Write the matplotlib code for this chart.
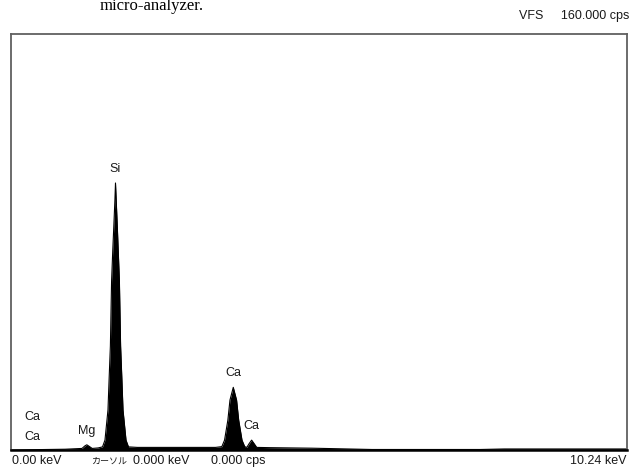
import matplotlib.pyplot as plt

# spectrum outline (energy in keV, counts in cps)
spectrum_kev = [0.00, 0.90, 1.18, 1.23, 1.26, 1.30, 1.35, 1.45,
                1.521, 1.562, 1.612, 1.632, 1.652, 1.672, 1.692, 1.709, 1.727,
                1.737,
                1.749, 1.767, 1.782, 1.802, 1.822, 1.842, 1.862, 1.912, 1.953,
                2.10, 2.60, 3.10, 3.40,
                3.505, 3.550, 3.605, 3.640, 3.695, 3.750, 3.785, 3.840, 3.885,
                3.92, 3.96, 4.00, 4.04, 4.085,
                4.30, 5.00, 5.60, 6.00, 7.80, 8.20, 10.24]
spectrum_cps = [0.0, 0.3, 0.6, 1.6, 2.0, 1.4, 0.6, 0.8,
                1.2, 3.8, 15.4, 28.0, 40.0, 65.0, 77.0, 86.0, 96.0,
                102.7,
                96.0, 86.0, 77.0, 65.0, 40.0, 28.0, 15.4, 3.8, 1.2,
                1.0, 1.0, 1.0, 1.0,
                1.3, 3.8, 11.5, 19.2, 24.1, 19.2, 11.5, 3.8, 1.3,
                1.0, 2.5, 3.8, 2.5, 1.0,
                0.9, 0.7, 0.4, 0.2, 0.2, 0.4, 0.4]

peak_names = ["Si", "Mg", "Ca", "Ca"]
peak_kev = [1.737, 1.26, 3.695, 4.00]
peak_cps = [102.7, 2.0, 24.1, 3.8]

full_scale = 160.0
max_kev = 10.24

plt.rcParams['font.family'] = ['Liberation Sans', 'Noto Sans CJK JP',
                               'DejaVu Sans']
txt = dict(fontsize=9, color='#1a1a1a')

fig = plt.figure(figsize=(6.31, 4.70), dpi=100)
ax = fig.add_axes([11 / 631, 20 / 470, 616 / 631, 416 / 470])

ax.fill_between(spectrum_kev, 0, spectrum_cps, color='black', lw=0)
ax.plot(spectrum_kev, spectrum_cps, color='black', lw=0.8)
ax.set_xlim(0, max_kev)
ax.set_ylim(0, full_scale)
ax.set_xticks([])
ax.set_yticks([])
for side in ['top', 'left', 'right']:
    ax.spines[side].set_color('#606060')
    ax.spines[side].set_linewidth(1.3)
ax.spines['bottom'].set_color('black')
ax.spines['bottom'].set_linewidth(1.8)

for name, e, c in zip(peak_names, peak_kev, peak_cps):
    ax.annotate(name, (e, c), xytext=(0, 10), textcoords='offset points',
                ha='center', va='center', **txt)

# element list at the left
ax.text(13 / 616, 33 / 416, "Ca", transform=ax.transAxes, va='center', **txt)
ax.text(13 / 616, 13 / 416, "Ca", transform=ax.transAxes, va='center', **txt)

# header and footer
fig.text(629 / 631, 1 - 16 / 470, "VFS     160.000 cps", ha='right',
         va='center', **txt)
by = 1 - 461 / 470
fig.text(12 / 631, by, "0.00 keV", va='center', **txt)
fig.text(91 / 631, by, "カーソル", va='center', fontsize=6.5, color='#1a1a1a')
fig.text(133 / 631, by, "0.000 keV", va='center', **txt)
fig.text(211 / 631, by, "0.000 cps", va='center', **txt)
fig.text(627 / 631, by, "10.24 keV", ha='right', va='center', **txt)

# cut-off caption line from the page above the chart
fig.text(100 / 631, 1 - 10 / 470, "micro-analyzer.", family='Liberation Serif',
         fontsize=12, va='baseline')

fig.savefig('out.png', dpi=100)
